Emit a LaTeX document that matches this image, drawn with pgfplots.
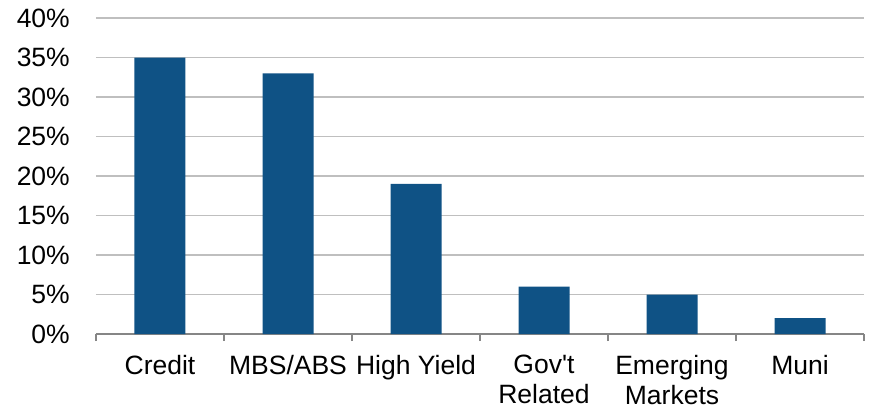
\documentclass[border=0pt]{standalone}
\usepackage{fontspec}
\setmainfont{Liberation Sans}[Ligatures=TeXOff]
\usepackage{pgfplots}
\pgfplotsset{compat=1.18}

\definecolor{barblue}{RGB}{15,82,133}
\definecolor{gridgray}{RGB}{191,191,191}
\definecolor{axisgray}{RGB}{134,134,134}

\begin{document}
\begin{tikzpicture}
\begin{axis}[
  at={(0,0)}, anchor=south west,
  scale only axis,
  width=768pt, height=316pt,
  xmin=-0.5, xmax=5.5,
  ymin=0, ymax=40,
  axis x line*=bottom,
  axis y line*=left,
  x axis line style={draw=axisgray, line width=1.5pt},
  y axis line style={draw=none},
  xtick={-0.5,0.5,...,5.5},
  xticklabels={},
  tick align=outside,
  x tick style={draw=axisgray, line width=1.5pt},
  major tick length=7pt,
  extra x ticks={0,...,5},
  extra x tick labels={Credit, MBS/ABS, High Yield, {Gov't\\Related}, {Emerging\\Markets}, Muni},
  extra x tick style={major tick length=0pt, x tick style={draw=none}},
  ytick={0,5,...,40},
  yticklabels={0\%,5\%,10\%,15\%,20\%,25\%,30\%,35\%,40\%},
  y tick style={draw=none},
  ymajorgrids,
  major grid style={draw=gridgray, line width=1.5pt},
  tick label style={font=\fontsize{26.5}{30}\selectfont, text=black},
  yticklabel style={anchor=east, inner sep=0pt, xshift=-19pt},
  xticklabel style={align=center, anchor=north, inner sep=0pt, yshift=-21pt},
  clip=false,
]
\addplot[ybar, bar width=51pt, fill=barblue, draw=none] coordinates {
  (0,35) (1,33) (2,19) (3,6) (4,5) (5,2)
};
\end{axis}
\pgfresetboundingbox
\path (-96pt,-76pt) rectangle (777pt,334pt);
\end{tikzpicture}
\end{document}
